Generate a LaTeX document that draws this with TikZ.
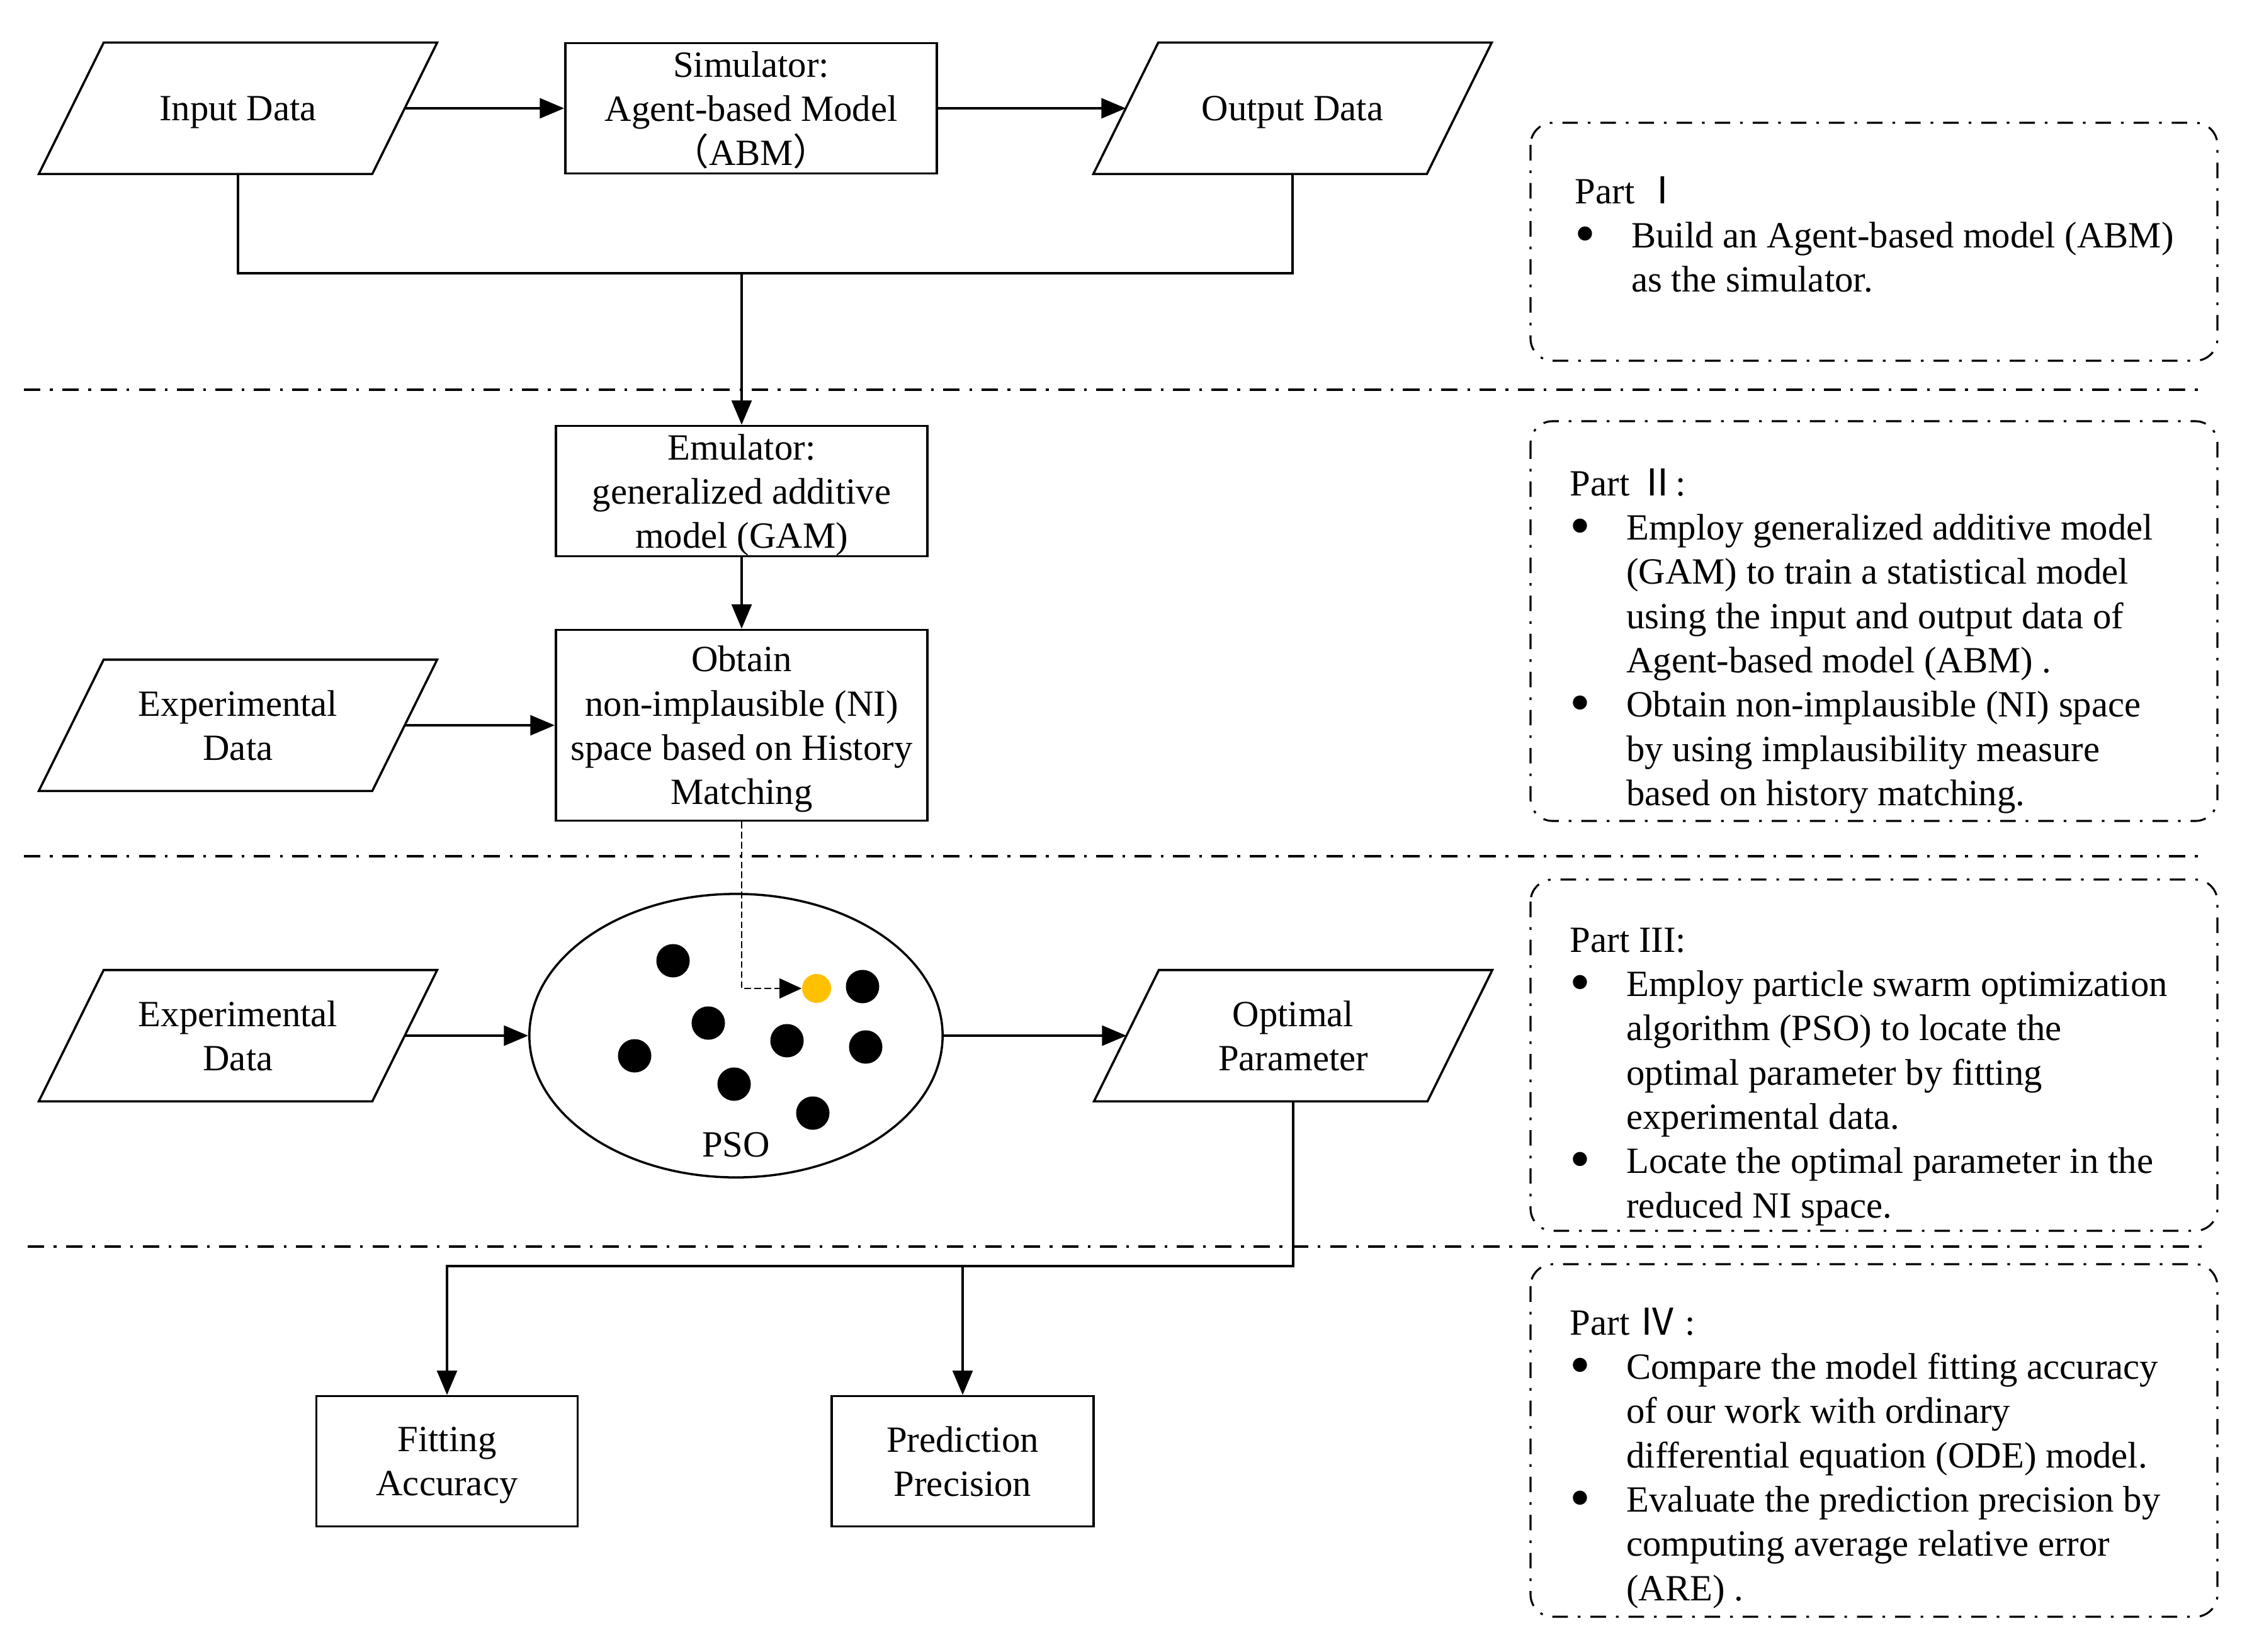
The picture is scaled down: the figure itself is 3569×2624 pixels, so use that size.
\documentclass[tikz,border=0pt]{standalone}
\usepackage{fontspec}
\usepackage{graphicx}
\setmainfont{Liberation Serif}
\newfontfamily\cjk{Noto Sans CJK SC}
\usetikzlibrary{arrows.meta,shapes.geometric,calc}
\definecolor{gold}{HTML}{FFC000}
\newcommand\lab{\fontsize{16.7}{20}\selectfont}
\newcommand\bul{\makebox[25.5pt][l]{\raisebox{-0.15em}{\scalebox{1.6}{\textbullet}}}}
\newcommand\ind{\hspace*{25.5pt}}
\newcommand\paral[1]{\draw[lineS] ($(#1.north west)+(51.5,0)$) -- ($(#1.north east)+(51.5,0)$) -- ($(#1.south east)+(-51.5,0)$) -- ($(#1.south west)+(-51.5,0)$) -- cycle;}
\begin{document}
\begin{tikzpicture}[x=0.01cm,y=-0.01cm,
 lineS/.style={line width=1pt},
 arr/.style={line width=1.1pt,-{Triangle[length=11pt,width=9pt]}},
 dsh/.style={line width=0.7pt,dash pattern=on 3pt off 1.5pt,-{Triangle[length=10pt,width=9pt]}},
 box/.style={draw,line width=1pt,minimum width=5.9cm,minimum height=2.07cm,align=center,inner sep=0,text depth=0pt,font=\lab},
 io/.style={minimum width=5.28cm,minimum height=2.07cm,align=center,inner sep=0,text depth=0pt,font=\lab},
 sep/.style={line width=1.3pt,dash pattern=on 7.5pt off 4.3pt on 1.2pt off 4.3pt},
 part/.style={line width=0.9pt,rounded corners=10pt,dash pattern=on 7pt off 4.5pt on 1.2pt off 4.5pt},
 ptxt/.style={anchor=base west,inner sep=0,font=\lab},
 dot/.style={circle,fill=black,inner sep=0,minimum size=0.53cm}]
\fill[white] (0,0) rectangle (3569,2624);
\useasboundingbox (0,0) rectangle (3569,2624);

% Part I flow
\node[io] (in) at (378,172) {Input Data};
\paral{in}
\node[box] (sim) at (1193,172) {Simulator:\\Agent-based Model\\{\cjk （}ABM{\cjk ）}};
\node[io] (out) at (2053,172) {Output Data};
\paral{out}
\draw[arr] (in.east) -- (sim.west);
\draw[arr] (sim.east) -- (out.west);
\coordinate (j1) at (1178,434);
\draw[lineS] (in.south) |- (j1) -| (out.south);

% Part II flow
\node[box] (emu) at (1178,780) {Emulator:\\generalized additive\\model (GAM)};
\node[box,minimum height=3.03cm] (obt) at (1178,1152) {Obtain\\non-implausible (NI)\\space based on History\\Matching};
\node[io] (exp1) at (378,1152) {Experimental\\Data};
\paral{exp1}
\draw[arr] (j1) -- (emu.north);
\draw[arr] (emu.south) -- (obt.north);
\draw[arr] (exp1.east) -- (obt.west);

% Part III flow
\node[io] (exp2) at (378,1645) {Experimental\\Data};
\paral{exp2}
\node[ellipse,draw,line width=1pt,minimum width=6.56cm,minimum height=4.5cm,inner sep=0] (pso) at (1169,1645) {};
\node[font=\lab,anchor=base,inner sep=0] (psol) at (1169,1837) {PSO};
\node[io] (opt) at (2054,1645) {Optimal\\Parameter};
\paral{opt}
\draw[arr] (exp2.east) -- (pso.west);
\draw[arr] (pso.east) -- (opt.west);
\node[dot] (d1) at (1069,1526) {};
\node[dot] (d2) at (1370,1567) {};
\node[dot] (d3) at (1125,1625) {};
\node[dot] (d4) at (1250,1653) {};
\node[dot] (d5) at (1375,1663) {};
\node[dot] (d6) at (1008,1677) {};
\node[dot] (d7) at (1166,1722) {};
\node[dot] (d8) at (1291,1768) {};
\node[dot,fill=gold,minimum size=0.46cm] (gb) at (1297,1570) {};
\draw[dsh] (obt.south) |- (gb.west);

% Part IV flow
\node[box,minimum width=4.15cm] (fit) at (710,2321) {Fitting\\Accuracy};
\node[box,minimum width=4.16cm] (pred) at (1529,2321) {Prediction\\Precision};
\coordinate (j2) at (1529,2011);
\draw[arr] (opt.south) |- (j2) -| (fit.north);
\draw[arr] (j2) -- (pred.north);

% separators
\draw[sep] (38,619) -- (3505,619);
\draw[sep] (38,1360) -- (3505,1360);
\draw[sep] (44,1980) -- (3505,1980);

% part boxes
\draw[part] (2431,195) rectangle (3522,573);
\draw[part] (2431,669) rectangle (3522,1304);
\draw[part] (2431,1397) rectangle (3522,1955);
\draw[part] (2431,2008) rectangle (3522,2568);

\node[ptxt] (t1) at (2501,323) {\parbox[t]{10cm}{Part {\cjk Ⅰ}\\
\bul Build an Agent-based model (ABM)\\
\ind as the simulator.}};
\node[ptxt] (t2) at (2493,787) {\parbox[t]{10cm}{Part {\cjk Ⅱ}:\\
\bul Employ generalized additive model\\
\ind (GAM) to train a statistical model\\
\ind using the input and output data of\\
\ind Agent-based model (ABM) .\\
\bul Obtain non-implausible (NI) space\\
\ind by using implausibility measure\\
\ind based on history matching.}};
\node[ptxt] (t3) at (2493,1512) {\parbox[t]{10cm}{Part III:\\
\bul Employ particle swarm optimization\\
\ind algorithm (PSO) to locate the\\
\ind optimal parameter by fitting\\
\ind experimental data.\\
\bul Locate the optimal parameter in the\\
\ind reduced NI space.}};
\node[ptxt] (t4) at (2493,2120) {\parbox[t]{10cm}{Part {\cjk Ⅳ} :\\
\bul Compare the model fitting accuracy\\
\ind of our work with ordinary\\
\ind differential equation (ODE) model.\\
\bul Evaluate the prediction precision by\\
\ind computing average relative error\\
\ind (ARE) .}};
\end{tikzpicture}
\end{document}
